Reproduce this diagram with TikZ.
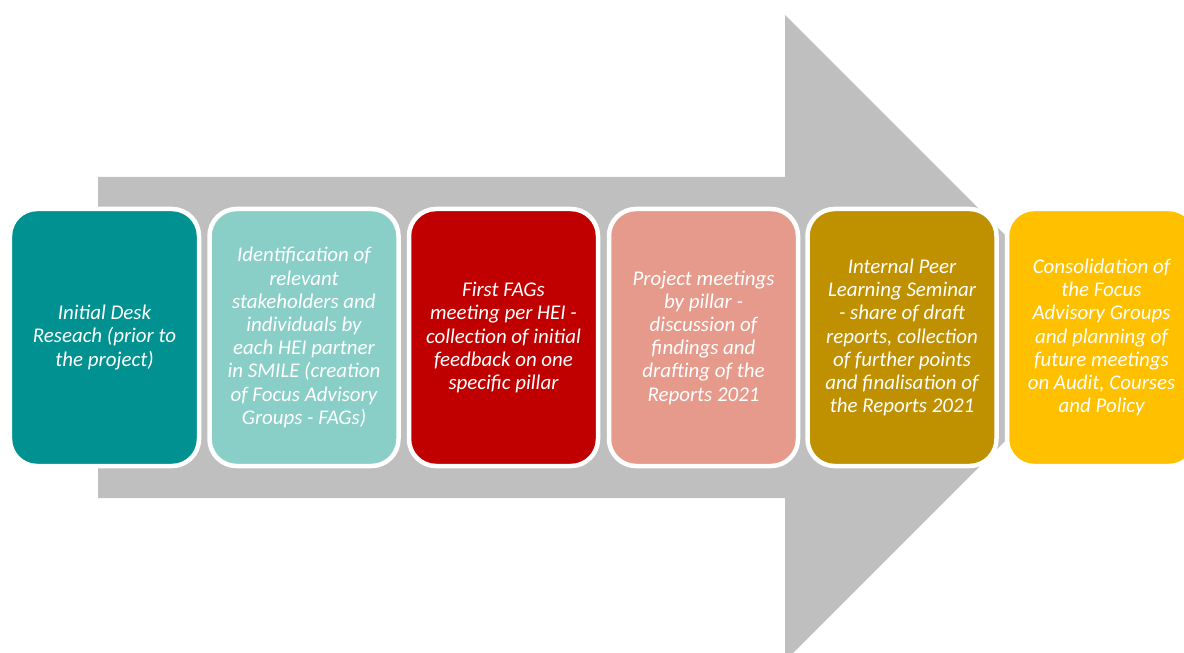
\documentclass[tikz,border=0pt]{standalone}
\usepackage{fontspec}
\setmainfont{Carlito}
\definecolor{arrowgrey}{HTML}{BFBFBF}
\definecolor{cteal}{HTML}{009190}
\definecolor{clteal}{HTML}{8ACFC7}
\definecolor{cred}{HTML}{C00000}
\definecolor{csalmon}{HTML}{E69A8B}
\definecolor{cgold}{HTML}{BF9000}
\definecolor{cyellow}{HTML}{FFC000}
\tikzset{
  stagebox/.style={rectangle, rounded corners=27bp, draw=white, line width=4.5bp,
    minimum width=189bp, minimum height=257bp, inner sep=0pt, align=center,
    text=white, font=\fontsize{21}{23.3}\selectfont\itshape},
}
\begin{document}
\begin{tikzpicture}[x=1bp,y=-1bp]
\useasboundingbox (0,0) rectangle (1184,653);
\clip (0,0) rectangle (1184,653);
\fill[arrowgrey] (98,177) -- (785,177) -- (785,15) -- (1108,338) -- (785,661) -- (785,498) -- (98,498) -- cycle;
\node[stagebox, fill=cteal] (s1) at (104.5,337.5) {Initial Desk\\Reseach (prior to\\the project)};
\node[stagebox, fill=clteal] (s2) at (304,337.5) {Identification of\\relevant\\stakeholders and\\individuals by\\each HEI partner\\in SMILE (creation\\of Focus Advisory\\Groups - FAGs)};
\node[stagebox, fill=cred] (s3) at (503.5,337.5) {First FAGs\\meeting per HEI -\\collection of initial\\feedback on one\\specific pillar};
\node[stagebox, fill=csalmon] (s4) at (703.5,337.5) {Project meetings\\by pillar -\\discussion of\\findings and\\drafting of the\\Reports 2021};
\node[stagebox, fill=cgold] (s5) at (902,337.5) {Internal Peer\\Learning Seminar\\- share of draft\\reports, collection\\of further points\\and finalisation of\\the Reports 2021};
\node[stagebox, fill=cyellow] (s6) at (1101.5,337.5) {Consolidation of\\the Focus\\Advisory Groups\\and planning of\\future meetings\\on Audit, Courses\\and Policy};
\end{tikzpicture}
\end{document}
